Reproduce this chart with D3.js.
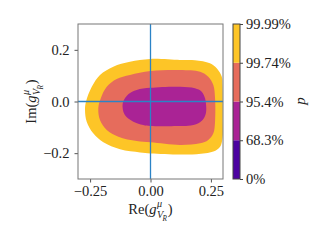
<!DOCTYPE html>
<html>
<head>
<meta charset="utf-8">
<script src="https://cdn.jsdelivr.net/npm/d3@7"></script>
<style>
  body { margin: 0; background: #fff; }
  text { font-family: "Liberation Serif", serif; fill: #222; }
</style>
</head>
<body>
<div id="chart"></div>
<script>
// ---- data ----
var xTicks = [-0.25, 0, 0.25];
var yTicks = [-0.2, 0, 0.2];
var levelLabels = ["0%", "68.3%", "95.4%", "99.74%", "99.99%"];

// contour outlines (Re, Im), outer to inner
var outline9999 = [[0.0,0.165],[-0.085,0.154],[-0.154,0.135],[-0.209,0.103],[-0.243,0.057],[-0.267,-0.001],
  [-0.271,-0.033],[-0.264,-0.078],[-0.237,-0.123],[-0.195,-0.158],[-0.126,-0.185],[-0.043,-0.197],[0.0,-0.201],
  [0.122,-0.205],[0.191,-0.204],[0.26,-0.194],[0.288,-0.175],[0.298,-0.141],[0.299,-0.072],[0.299,0.006],
  [0.298,0.064],[0.295,0.096],[0.274,0.129],[0.246,0.148],[0.184,0.160],[0.122,0.161]];
var outline9974 = [[0.0,0.118],[-0.085,0.103],[-0.140,0.087],[-0.181,0.057],[-0.206,0.012],[-0.216,-0.026],
  [-0.209,-0.072],[-0.181,-0.110],[-0.133,-0.136],[-0.057,-0.153],[0.0,-0.158],[0.122,-0.168],[0.205,-0.162],
  [0.239,-0.149],[0.26,-0.123],[0.267,-0.079],[0.267,0.014],[0.26,0.064],[0.239,0.096],[0.205,0.115],[0.122,0.122]];
var outline954 = [[0.0,0.053],[-0.057,0.045],[-0.092,0.028],[-0.113,-0.001],[-0.115,-0.026],[-0.106,-0.052],
  [-0.071,-0.078],[-0.030,-0.091],[0.0,-0.095],[0.122,-0.095],[0.156,-0.094],[0.198,-0.084],[0.221,-0.065],
  [0.230,-0.041],[0.230,-0.014],[0.226,0.012],[0.212,0.038],[0.184,0.051],[0.122,0.057]];
var regions = [
  { level: 3, pts: outline9999 },
  { level: 2, pts: outline9974 },
  { level: 1, pts: outline954 }
];

var svgWidth = 320, svgHeight = 240;
var plot = { left: 78, top: 24, right: 223, bottom: 179 };
var fs = 14.5;

var svg = d3.select("#chart").append("svg")
  .attr("width", svgWidth).attr("height", svgHeight);

var x = d3.scaleLinear().domain([-0.3, 0.3]).range([plot.left, plot.right]);
var y = d3.scaleLinear().domain([-0.3, 0.3]).range([plot.bottom, plot.top]);

// band colours from plasma, midpoints of the 4 levels
function bandColor(i) { return d3.interpolatePlasma((i + 0.5) / 4); }

svg.append("clipPath").attr("id", "clip")
  .append("rect")
  .attr("x", plot.left).attr("y", plot.top)
  .attr("width", plot.right - plot.left).attr("height", plot.bottom - plot.top);

var line = d3.line()
  .x(d => x(d[0]))
  .y(d => y(d[1]))
  .curve(d3.curveCatmullRomClosed.alpha(0.5));

var cg = svg.append("g").attr("clip-path", "url(#clip)");
cg.selectAll("path.region")
  .data(regions)
  .enter()
  .append("path")
  .attr("class", "region")
  .attr("d", d => line(d.pts))
  .attr("fill", d => bandColor(d.level));

// zero lines
cg.append("line")
  .attr("x1", x(0)).attr("x2", x(0))
  .attr("y1", plot.top).attr("y2", plot.bottom)
  .attr("stroke", "#2b83c6").attr("stroke-width", 1.3);
cg.append("line")
  .attr("x1", plot.left).attr("x2", plot.right)
  .attr("y1", y(0)).attr("y2", y(0))
  .attr("stroke", "#2b83c6").attr("stroke-width", 1.3);

// axes
var xAxis = svg.append("g")
  .attr("transform", `translate(0, ${plot.bottom})`)
  .call(d3.axisBottom(x).tickValues(xTicks).tickSize(3.5).tickPadding(3).tickFormat(d3.format(".2f")));
var yAxis = svg.append("g")
  .attr("transform", `translate(${plot.left}, 0)`)
  .call(d3.axisLeft(y).tickValues(yTicks).tickSize(3.5).tickPadding(5).tickFormat(d3.format(".1f")));
[xAxis, yAxis].forEach(function(a) {
  a.select(".domain").remove();
  a.selectAll("line").attr("stroke", "#555");
  a.selectAll("text").style("font-size", fs + "px").attr("fill", "#222")
    .style("font-family", "Liberation Serif");
});

// spines
svg.append("rect")
  .attr("x", plot.left).attr("y", plot.top)
  .attr("width", plot.right - plot.left).attr("height", plot.bottom - plot.top)
  .attr("fill", "none").attr("stroke", "#777").attr("stroke-width", 1);

// colorbar
var cb = { left: 233, width: 7 };
var cy = d3.scalePoint().domain(levelLabels).range([plot.bottom, plot.top]);
var bands = d3.range(levelLabels.length - 1);
svg.selectAll("rect.band")
  .data(bands)
  .enter()
  .append("rect")
  .attr("class", "band")
  .attr("x", cb.left)
  .attr("width", cb.width)
  .attr("y", i => cy(levelLabels[i + 1]))
  .attr("height", i => cy(levelLabels[i]) - cy(levelLabels[i + 1]))
  .attr("fill", i => bandColor(i));
svg.append("rect")
  .attr("x", cb.left).attr("y", plot.top)
  .attr("width", cb.width).attr("height", plot.bottom - plot.top)
  .attr("fill", "none").attr("stroke", "#444").attr("stroke-width", 1);
var cAxis = svg.append("g")
  .attr("transform", `translate(${cb.left + cb.width}, 0)`)
  .call(d3.axisRight(cy).tickSize(3).tickPadding(3));
cAxis.select(".domain").remove();
cAxis.selectAll("line").attr("stroke", "#444");
cAxis.selectAll("text").style("font-size", fs + "px").attr("fill", "#222")
  .style("font-family", "Liberation Serif");

svg.append("text")
  .attr("transform", "translate(305, 101) rotate(-90)")
  .attr("text-anchor", "middle")
  .style("font-size", "15px").style("font-style", "italic")
  .text("p");

// axis labels like Re(g^mu_{V_R})
function mathLabel(parent, prefix) {
  var grp = parent.append("g");
  var px = 0;
  var t1 = grp.append("text").attr("x", px).style("font-size", fs + "px").text(prefix);
  px += t1.node().getComputedTextLength();
  var tg = grp.append("text").attr("x", px).style("font-size", fs + "px").style("font-style", "italic").text("g");
  px += tg.node().getComputedTextLength() + 0.5;
  var sup = grp.append("text").attr("x", px).attr("y", -0.45 * fs)
    .style("font-size", (0.7 * fs) + "px").style("font-style", "italic").text("μ");
  var sub = grp.append("text").attr("x", px).attr("y", 0.28 * fs)
    .style("font-size", (0.7 * fs) + "px").style("font-style", "italic").text("V");
  var subW = sub.node().getComputedTextLength();
  var sub2 = grp.append("text").attr("x", px + subW - 0.8).attr("y", 0.45 * fs)
    .style("font-size", (0.5 * fs) + "px").style("font-style", "italic").text("R");
  var w = Math.max(sup.node().getComputedTextLength(), subW - 0.8 + sub2.node().getComputedTextLength());
  px += w + 1;
  var tc = grp.append("text").attr("x", px).style("font-size", fs + "px").text(")");
  px += tc.node().getComputedTextLength();
  return { grp: grp, width: px };
}

var xl = mathLabel(svg, "Re(");
xl.grp.attr("transform", `translate(${(plot.left + plot.right) / 2 - xl.width / 2}, 214)`);
var yl = mathLabel(svg, "Im(");
yl.grp.attr("transform", `translate(36, ${(plot.top + plot.bottom) / 2 + yl.width / 2}) rotate(-90)`);
</script>
</body>
</html>
